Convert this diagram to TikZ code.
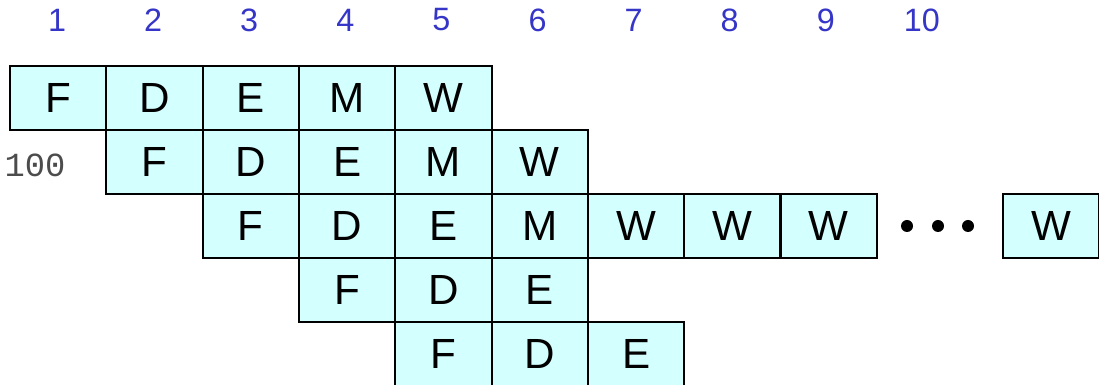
\documentclass[tikz,border=0pt]{standalone}
\usepackage{fontspec}
\setmainfont{Liberation Sans}
\newfontfamily\codefont{Liberation Mono}
\usepackage{xcolor}
\usetikzlibrary{positioning}
\definecolor{cellfill}{HTML}{D4FFFF}
\definecolor{cycleblue}{HTML}{3535C8}

\begin{document}
\begin{tikzpicture}[
    x=0.025cm, y=-0.025cm,
    cell/.style={rectangle, draw=black, line width=1.6pt, fill=cellfill,
                 minimum width=2.4075cm, minimum height=1.6cm,
                 inner sep=0pt, outer sep=0pt, font=\fontsize{30}{36}\selectfont},
    cyc/.style={text=cycleblue, font=\fontsize{23}{27}\selectfont}
]
    \useasboundingbox (0,0) rectangle (1099,385);

    % clock cycles
    \foreach \i in {1,...,10}
        \node[cyc] (cyc\i) at ({57+(\i-1)*96.1}, 20) {\i};

    % instruction 1
    \node[cell, anchor=north west] (a1) at (10,66) {F};
    \node[cell, right=0pt of a1] (a2) {D};
    \node[cell, right=0pt of a2] (a3) {E};
    \node[cell, right=0pt of a3] (a4) {M};
    \node[cell, right=0pt of a4] (a5) {W};

    % instruction 2
    \node[cell, below=0pt of a2] (b1) {F};
    \node[cell, right=0pt of b1] (b2) {D};
    \node[cell, right=0pt of b2] (b3) {E};
    \node[cell, right=0pt of b3] (b4) {M};
    \node[cell, right=0pt of b4] (b5) {W};
    \node[font=\codefont\fontsize{24}{28}\selectfont, text=black!70] (addr) at (35,165) {100};

    % instruction 3
    \node[cell, below=0pt of b2] (c1) {F};
    \node[cell, right=0pt of c1] (c2) {D};
    \node[cell, right=0pt of c2] (c3) {E};
    \node[cell, right=0pt of c3] (c4) {M};
    \node[cell, right=0pt of c4] (c5) {W};
    \node[cell, right=0pt of c5] (c6) {W};
    \node[cell, right=0pt of c6] (c7) {W};
    \node[cell, anchor=north west] (c8) at (1003,194) {W};
    \coordinate (dots) at (938,226);
    \foreach \dx in {-31,0,30}
        \fill ([xshift=\dx*0.025cm]dots) circle[radius=0.15cm];

    % instruction 4
    \node[cell, below=0pt of c2] (d1) {F};
    \node[cell, right=0pt of d1] (d2) {D};
    \node[cell, right=0pt of d2] (d3) {E};

    % instruction 5
    \node[cell, below=0pt of d2] (e1) {F};
    \node[cell, right=0pt of e1] (e2) {D};
    \node[cell, right=0pt of e2] (e3) {E};
\end{tikzpicture}
\end{document}
